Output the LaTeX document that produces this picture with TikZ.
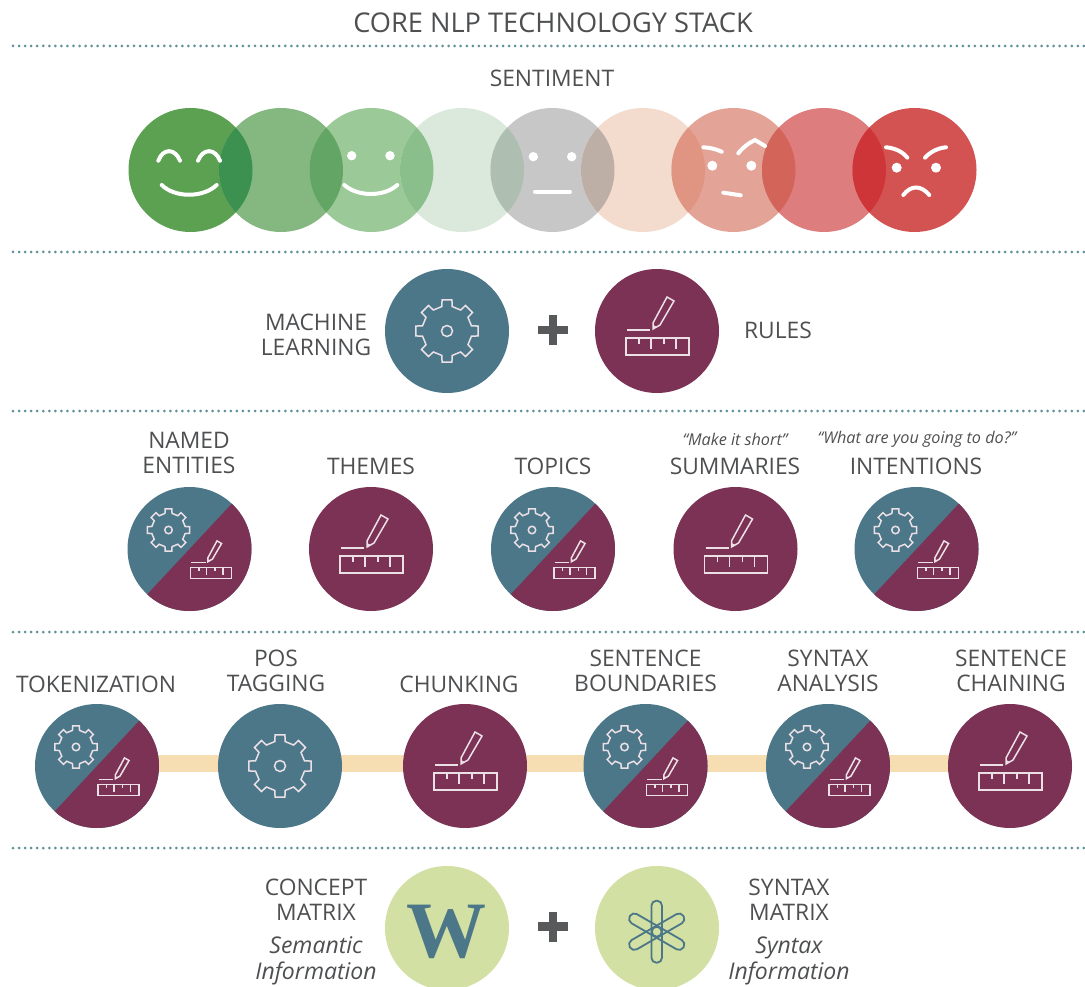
\documentclass[tikz,border=0pt]{standalone}
\usepackage{fontspec}
\setmainfont{Open Sans}
\newfontfamily\wfont{Liberation Serif}
\usetikzlibrary{backgrounds}
\definecolor{nlpteal}{HTML}{4C7789}
\definecolor{nlpplum}{HTML}{7C3255}
\definecolor{nlplime}{HTML}{D3E0A3}
\definecolor{nlpbar}{HTML}{F6DEB2}
\definecolor{nlptext}{HTML}{4E4F51}
\definecolor{nlpplus}{HTML}{58595B}
\definecolor{nlpdots}{HTML}{5F9197}
\tikzset{
    x=1pt,y=1pt,
    disc/.style={circle,inner sep=0,minimum size=124pt},
    tealdisc/.style={disc,fill=nlpteal},
    plumdisc/.style={disc,fill=nlpplum},
    limedisc/.style={disc,fill=nlplime},
    splitdisc/.style={disc,fill=nlpteal,path picture={
        \fill [nlpplum] (path picture bounding box.center) +(47:120) -- +(-43:170) -- +(-133:120) -- cycle;}},
    label/.style={text=nlptext,align=center,font=\fontsize{22.8}{25}\selectfont},
    slanted/.style={label,font=\fontsize{23}{26}\selectfont\itshape},
    quote/.style={text=nlptext,font=\fontsize{16.2}{18}\selectfont\itshape},
    sepline/.style={nlpdots,line width=3pt,line cap=round,dash pattern=on 0pt off 6.05pt},
    faceline/.style={white,line width=4pt,line cap=round},
    linkbar/.style={nlpbar,line width=17pt},
    pic icon/.style={white!85!nlpplum,line width=1.5pt},
    gearicon/.pic={
        \draw [pic icon] (-12:25) \foreach \a in {0,45,...,315} {-- (\a-12:25) -- (\a-9:31.5) -- (\a+9:31.5) -- (\a+12:25)} -- cycle;
        \draw [pic icon] (0,0) circle [radius=5.5];
    },
    ruleicon/.pic={
        \draw [pic icon] (-31,-7) rectangle (32,-24);
        \draw [pic icon] (-18,-7) -- (-18,-13) (-6,-7) -- (-6,-18) (7,-7) -- (7,-13) (19,-7) -- (19,-18);
        \draw [pic icon] (-30,1) -- (-7,1);
        \draw [pic icon] (-4,2) -- (-4,8) -- (10,34) -- (17,30) -- (3,6) -- cycle;
        \fill [pic icon] (-4,2) -- (-4,6) -- (0,4) -- cycle;
    },
    splitgear/.pic={\pic [scale=.68] at (-21,19) {gearicon}; \pic [scale=.65] at (21,-14) {ruleicon};},
}
\begin{document}
\begin{tikzpicture}
    \useasboundingbox (0,0) rectangle (1085,-987);
    \node [label,font=\fontsize{27.2}{30}\selectfont] (title) at (553,-23) {CORE NLP TECHNOLOGY STACK};
    \foreach \y in {46,252,411,632,848}
        \draw [sepline] (13,-\y) -- (1085,-\y);
    % sentiment row
    \node [label] (sentiment) at (552,-78) {SENTIMENT};
    \foreach \n/\x/\c in {a/190.5/5CA052,b/281/85B781,c/371.5/9BC997,d/462/DBE9DD,e/552.5/C7C7C7,f/643/F3DBCE,g/733.5/E3A397,h/824/DD7D7D,i/914.5/D25352}{
        \definecolor{moodcolor}{HTML}{\c}
        \node [disc,fill=moodcolor] (mood\n) at (\x,-170) {};
    }
    \foreach \x/\c in {190.5/3C9150,281/63A565,371.5/8ABE8A,462/AEBFB2,552.5/BDAFA6,643/DF9581,733.5/D26459,824/CE3538}{
        \definecolor{lenscolor}{HTML}{\c}
        \begin{scope}
            \clip (\x,-170) circle [radius=62];
            \fill [lenscolor] (\x+90.5,-170) circle [radius=62];
        \end{scope}
    }
    % faces
    \draw [faceline] (158.3,-160.7) .. controls (163,-148) and (175,-148) .. (180,-160.7);
    \draw [faceline] (198,-160.7) .. controls (203,-148) and (215,-148) .. (220,-160.7);
    \draw [faceline] (161.7,-185) .. controls (175,-198) and (203,-198) .. (216.7,-185);
    \fill [white] (351.7,-155.7) circle [radius=4.7] (390,-155.7) circle [radius=4.7];
    \draw [faceline] (344.3,-185) .. controls (358,-197) and (384,-197) .. (397.3,-185);
    \fill [white] (533.3,-156.7) circle [radius=4.7] (571.7,-156.7) circle [radius=4.7];
    \draw [faceline] (535,-191.7) -- (570,-191.7);
    \fill [white] (712.3,-165.7) circle [radius=5] (751.3,-165.7) circle [radius=5];
    \draw [faceline] (703.3,-147.3) .. controls (709,-147.5) and (716,-149) .. (721.7,-151.7);
    \draw [faceline] (738.3,-153.3) .. controls (743,-147) and (749,-143) .. (755,-140) -- (765,-146);
    \draw [faceline] (723.3,-192.7) -- (740.7,-195.3);
    \fill [white] (896.7,-167.7) circle [radius=5] (936,-167.7) circle [radius=5];
    \draw [faceline] (886,-147.3) .. controls (895,-148) and (903,-152) .. (907.3,-157.7);
    \draw [faceline] (925,-157.7) .. controls (930,-152) and (938,-148) .. (946,-147.3);
    \draw [faceline] (903.3,-195) .. controls (911,-185) and (921,-185) .. (929.3,-195);
    % machine learning + rules
    \node [label] (machine) at (316,-335) {MACHINE\\LEARNING};
    \node [tealdisc] (mlbig) at (447,-331) {};
    \pic at (mlbig) {gearicon};
    \draw [nlpplus,line width=8.7pt] (538,-330) -- (568,-330) (553,-315) -- (553,-345);
    \node [plumdisc] (rulesbig) at (657,-331) {};
    \pic at (rulesbig) {ruleicon};
    \node [label] (rules) at (778,-330) {RULES};
    % analysis row
    \node [label] (named) at (189,-453) {NAMED\\ENTITIES};
    \node [label] (themes) at (371,-466) {THEMES};
    \node [label] (topics) at (553,-466) {TOPICS};
    \node [label] (summaries) at (735,-466) {SUMMARIES};
    \node [label] (intentions) at (916,-466) {INTENTIONS};
    \node [quote] (short) at (735,-439) {“Make it short”};
    \node [quote] (going) at (917,-439) {“What are you going to do?”};
    \node [splitdisc] (nameddisc) at (189.5,-549) {};
    \pic at (nameddisc) {splitgear};
    \node [plumdisc] (themesdisc) at (371,-549) {};
    \pic at (themesdisc) {ruleicon};
    \node [splitdisc] (topicsdisc) at (553,-549) {};
    \pic at (topicsdisc) {splitgear};
    \node [plumdisc] (summariesdisc) at (735.5,-549) {};
    \pic at (summariesdisc) {ruleicon};
    \node [splitdisc] (intentionsdisc) at (916.5,-549) {};
    \pic at (intentionsdisc) {splitgear};
    % pipeline row
    \node [label] (tokenization) at (96,-684) {TOKENIZATION};
    \node [label] (pos) at (276,-671) {POS\\TAGGING};
    \node [label] (chunking) at (459,-684) {CHUNKING};
    \node [label] (boundaries) at (645.5,-671) {SENTENCE\\BOUNDARIES};
    \node [label] (syntax) at (828,-671) {SYNTAX\\ANALYSIS};
    \node [label] (chaining) at (1011,-671) {SENTENCE\\CHAINING};
    \node [splitdisc] (tokendisc) at (97,-766) {};
    \pic at (tokendisc) {splitgear};
    \node [tealdisc] (posdisc) at (280,-766) {};
    \pic at (posdisc) {gearicon};
    \node [plumdisc] (chunkdisc) at (465,-766) {};
    \pic at (chunkdisc) {ruleicon};
    \node [splitdisc] (bounddisc) at (645.5,-766) {};
    \pic at (bounddisc) {splitgear};
    \node [splitdisc] (syntaxdisc) at (828,-766) {};
    \pic at (syntaxdisc) {splitgear};
    \node [plumdisc] (chaindisc) at (1010,-766) {};
    \pic at (chaindisc) {ruleicon};
    \begin{pgfonlayer}{background}
        \draw [linkbar] ([yshift=3pt]tokendisc.center) -- ([yshift=3pt]posdisc.center);
        \draw [linkbar] ([yshift=3pt]posdisc.center) -- ([yshift=3pt]chunkdisc.center);
        \draw [linkbar] ([yshift=3pt]chunkdisc.center) -- ([yshift=3pt]bounddisc.center);
        \draw [linkbar] ([yshift=3pt]bounddisc.center) -- ([yshift=3pt]syntaxdisc.center);
        \draw [linkbar] ([yshift=3pt]syntaxdisc.center) -- ([yshift=3pt]chaindisc.center);
    \end{pgfonlayer}
    % matrices
    \node [label] (concept) at (316,-900) {CONCEPT\\MATRIX};
    \node [slanted] (semantic) at (316,-961) {Semantic\\Information};
    \node [limedisc] (wdisc) at (447,-928) {};
    \node [text=nlpteal,font=\fontsize{80}{80}\wfont\bfseries,inner sep=0] (wletter) at (446,-932) {W};
    \draw [nlpplus,line width=8.7pt] (538,-926.5) -- (568,-926.5) (553,-911.5) -- (553,-941.5);
    \node [limedisc] (sdisc) at (657,-928) {};
    \foreach \r in {0,60,120}
        \draw [nlpteal,line width=1.8pt,rounded corners=5,rotate around={\r:(656.7,-931.7)}] (651.4,-900.7) rectangle (662,-962.7);
    \draw [nlpteal,line width=1.8pt] (656.7,-931.7) circle [radius=5];
    \node [label] (syntaxm) at (789,-900) {SYNTAX\\MATRIX};
    \node [slanted] (syntaxinfo) at (789,-961) {Syntax\\Information};
\end{tikzpicture}
\end{document}
